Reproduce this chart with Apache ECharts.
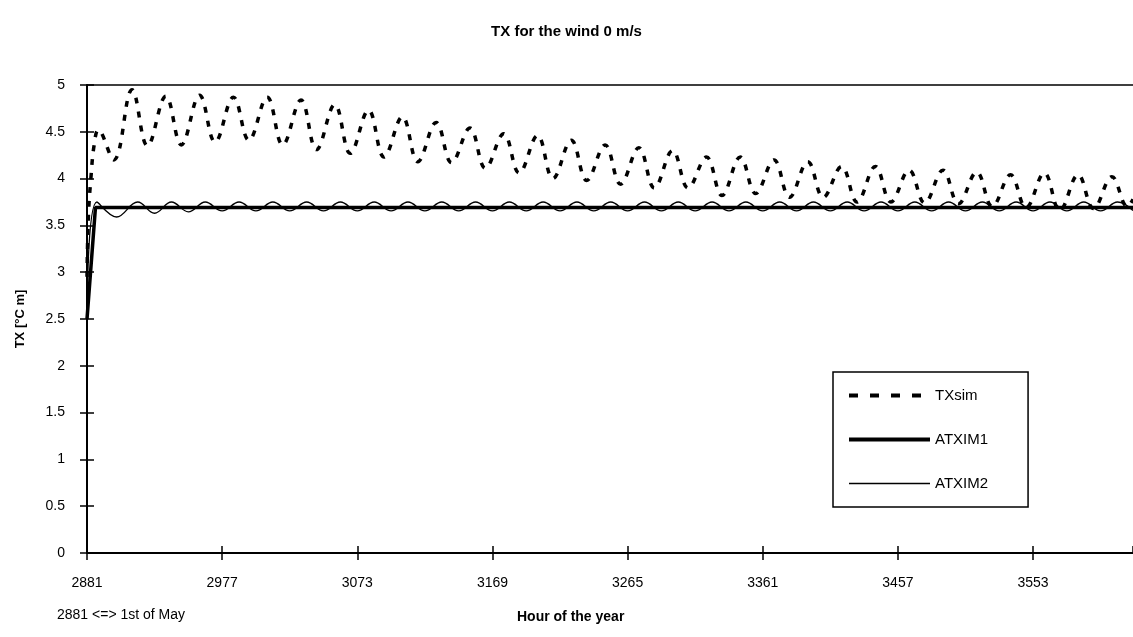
<!DOCTYPE html>
<html>
<head>
<meta charset="utf-8">
<script src="https://cdn.jsdelivr.net/npm/echarts@6/dist/echarts.min.js"></script>
<style>
html,body{margin:0;padding:0;background:#fff;}
#chart{width:1133px;height:637px;}
</style>
</head>
<body>
<div id="chart"></div>
<script>
// x tick labels (hour of the year)
const xTicks = [2881, 2977, 3073, 3169, 3265, 3361, 3457, 3553];
const yTicks = [0, 0.5, 1, 1.5, 2, 2.5, 3, 3.5, 4, 4.5, 5];

// TXsim (dashed): start, then alternating daily peaks / troughs
const txsimHours = [2881, 2882, 2884, 2886, 2889, 2900, 2913, 2924, 2937, 2948, 2961, 2972, 2985, 2996,
  3009, 3020, 3033, 3044, 3057, 3068, 3081, 3092, 3105, 3116, 3129, 3140, 3153, 3164, 3177, 3188,
  3201, 3212, 3225, 3236, 3249, 3260, 3273, 3284, 3297, 3308, 3321, 3332, 3345, 3356, 3369, 3380,
  3393, 3404, 3417, 3428, 3441, 3452, 3465, 3476, 3489, 3500, 3513, 3524, 3537, 3548, 3561, 3572,
  3585, 3596, 3609, 3620, 3624];
const txsimValues = [2.95, 3.6, 4.05, 4.35, 4.52, 4.2, 4.95, 4.35, 4.88, 4.36, 4.89, 4.39, 4.87, 4.41,
  4.87, 4.36, 4.84, 4.31, 4.79, 4.27, 4.73, 4.23, 4.66, 4.18, 4.6, 4.17, 4.54, 4.11, 4.48, 4.06,
  4.46, 4.0, 4.41, 3.98, 4.36, 3.94, 4.33, 3.9, 4.3, 3.9, 4.23, 3.82, 4.23, 3.84, 4.2, 3.8,
  4.18, 3.8, 4.13, 3.75, 4.13, 3.75, 4.09, 3.74, 4.09, 3.73, 4.07, 3.7, 4.04, 3.69, 4.06, 3.66,
  4.04, 3.68, 4.02, 3.7, 3.78];

// ATXIM1 (thick solid)
const atxim1Hours = [2881, 2887, 3624];
const atxim1Values = [2.5, 3.69, 3.69];

// ATXIM2 (thin solid)
const atxim2Hours = [2881, 2888, 2902, 2917, 2929, 2941, 2953, 2965, 2977, 2989, 3001, 3013, 3025,
  3037, 3049, 3061, 3073, 3085, 3097, 3109, 3121, 3133, 3145, 3157, 3169, 3181, 3193, 3205, 3217,
  3229, 3241, 3253, 3265, 3277, 3289, 3301, 3313, 3325, 3337, 3349, 3361, 3373, 3385, 3397, 3409,
  3421, 3433, 3445, 3457, 3469, 3481, 3493, 3505, 3517, 3529, 3541, 3553, 3565, 3577, 3589, 3601,
  3613, 3624];
const atxim2Values = [2.5, 3.75, 3.59, 3.75, 3.63, 3.75, 3.645, 3.75, 3.655, 3.75, 3.655, 3.75, 3.655,
  3.75, 3.655, 3.75, 3.655, 3.75, 3.655, 3.75, 3.655, 3.75, 3.655, 3.75, 3.655, 3.75, 3.655, 3.75, 3.655,
  3.75, 3.655, 3.75, 3.655, 3.75, 3.655, 3.75, 3.655, 3.75, 3.655, 3.75, 3.655, 3.75, 3.655, 3.75, 3.655,
  3.75, 3.655, 3.75, 3.655, 3.75, 3.655, 3.75, 3.655, 3.75, 3.655, 3.75, 3.655, 3.75, 3.655, 3.75, 3.655,
  3.75, 3.66];

const seriesNames = ['TXsim', 'ATXIM1', 'ATXIM2'];

const pair = (hs, vs) => hs.map((h, i) => [h, vs[i]]);
const FONT = '"Liberation Sans", Arial, sans-serif';
const xMin = xTicks[0], xMax = 3624, xStep = xTicks[1] - xTicks[0];
const yMin = yTicks[0], yMax = yTicks[yTicks.length - 1], yStep = yTicks[1] - yTicks[0];

const chart = echarts.init(document.getElementById('chart'), null, {renderer: 'canvas'});
const baseX = {type: 'value', min: xMin, max: xMax, interval: xStep, gridIndex: 0, splitLine: {show: false}};
const baseY = {type: 'value', min: yMin, max: yMax, interval: yStep, gridIndex: 0, splitLine: {show: false}};

chart.setOption({
  backgroundColor: '#fff',
  animation: false,
  title: {
    text: 'TX for the wind 0 m/s',
    left: 'center', top: 19,
    textStyle: {fontFamily: FONT, fontSize: 15, fontWeight: 'bold', color: '#000'}
  },
  grid: {left: 87, right: 0, top: 85, bottom: 84, containLabel: false},
  xAxis: [
    Object.assign({}, baseX, {
      position: 'bottom',
      axisLine: {show: true, onZero: false, lineStyle: {color: '#000', width: 2}},
      axisTick: {show: true, inside: false, length: 7, lineStyle: {color: '#000', width: 1.5}},
      axisLabel: {show: true, margin: 23, color: '#000', fontFamily: FONT, fontSize: 14,
        showMaxLabel: false, formatter: v => String(v)}
    }),
    Object.assign({}, baseX, {
      position: 'top',
      axisLine: {show: true, onZero: false, lineStyle: {color: '#000', width: 1.5}},
      axisTick: {show: false}, axisLabel: {show: false}
    }),
    Object.assign({}, baseX, {
      position: 'bottom',
      axisLine: {show: false, onZero: false},
      axisTick: {show: true, inside: true, length: 7, lineStyle: {color: '#000', width: 1.5}},
      axisLabel: {show: false}
    })
  ],
  yAxis: [
    Object.assign({}, baseY, {
      position: 'left',
      name: 'TX [°C m]', nameLocation: 'middle', nameGap: 60, nameRotate: 90,
      nameTextStyle: {fontFamily: FONT, fontSize: 13, fontWeight: 'bold', color: '#000'},
      axisLine: {show: true, onZero: false, lineStyle: {color: '#000', width: 2}},
      axisTick: {show: true, inside: false, length: 7, lineStyle: {color: '#000', width: 1.5}},
      axisLabel: {show: true, margin: 22, color: '#000', fontFamily: FONT, fontSize: 14}
    }),
    Object.assign({}, baseY, {
      position: 'left',
      axisLine: {show: false, onZero: false},
      axisTick: {show: true, inside: true, length: 7, lineStyle: {color: '#000', width: 1.5}},
      axisLabel: {show: false}
    })
  ],
  legend: {
    orient: 'vertical',
    left: 833, top: 372,
    padding: [16, 40, 16, 14],
    itemWidth: 81, itemHeight: 14, itemGap: 29,
    borderColor: '#000', borderWidth: 1.5, backgroundColor: '#fff',
    itemStyle: {color: 'rgba(0,0,0,0)', borderWidth: 0, opacity: 0},
    textStyle: {fontFamily: FONT, fontSize: 15, color: '#000'},
    data: [
      {name: seriesNames[0], lineStyle: {color: '#000', width: 4, type: [9, 12]}},
      {name: seriesNames[1], lineStyle: {color: '#000', width: 4}},
      {name: seriesNames[2], lineStyle: {color: '#000', width: 1.3}}
    ]
  },
  graphic: [
    {type: 'text', left: 57, top: 608,
      style: {text: '2881 <=> 1st of May', fontFamily: FONT, fontSize: 14, fill: '#000'}},
    {type: 'text', left: 517, top: 610,
      style: {text: 'Hour of the year', fontFamily: FONT, fontSize: 14, fontWeight: 'bold', fill: '#000'}}
  ],
  series: [
    {
      name: seriesNames[0], type: 'line', xAxisIndex: 0, yAxisIndex: 0,
      data: pair(txsimHours, txsimValues),
      smooth: 0.4, symbol: 'none', z: 3,
      lineStyle: {color: '#000', width: 3.5, type: [6, 8]},
      itemStyle: {color: '#000'}
    },
    {
      name: seriesNames[1], type: 'line', xAxisIndex: 0, yAxisIndex: 0,
      data: pair(atxim1Hours, atxim1Values),
      smooth: false, symbol: 'none', z: 2,
      lineStyle: {color: '#000', width: 3.5},
      itemStyle: {color: '#000'}
    },
    {
      name: seriesNames[2], type: 'line', xAxisIndex: 0, yAxisIndex: 0,
      data: pair(atxim2Hours, atxim2Values),
      smooth: 0.4, symbol: 'none', z: 2,
      lineStyle: {color: '#000', width: 1.3},
      itemStyle: {color: '#000'}
    }
  ]
});
</script>
</body>
</html>
